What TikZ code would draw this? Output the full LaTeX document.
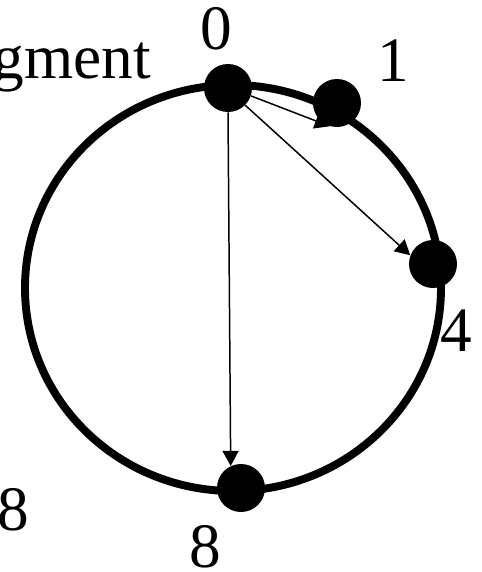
\documentclass[tikz,border=0pt]{standalone}
\usepackage{fontspec}
\setmainfont{Liberation Serif}
\usetikzlibrary{positioning,arrows.meta}

\begin{document}
\begin{tikzpicture}[x=0.2mm,y=-0.2mm,
  dot/.style={circle,fill=black,inner sep=0pt,minimum size=9.6mm},
  lbl/.style={inner sep=0pt,font=\fontsize{36}{40}\selectfont},
  hop/.style={line width=0.85pt,-{Triangle[length=3mm,width=3.2mm]}}]
\useasboundingbox (0,0) rectangle (481,572);
% the ring
\draw[line width=4.5pt] (233,288) ellipse [x radius=41.6mm, y radius=40.6mm];
\node[dot] (n0) at (228,88) {};
\node[dot] (n1) at (337,103) {};
\node[dot] (n4) at (433,264) {};
\node[dot] (n8) at (241,488) {};
% labels
\node[lbl] (l0) at (216,29) {0};
\node[lbl] (l1) at (393,61) {1};
\node[lbl] (l4) at (456,331) {4};
\node[lbl] (l8) at (205,547) {8};
\node[lbl] (lft) at (13,510) {8};
\node[lbl,anchor=base east] (seg) at (151,78) {gment};
% fingers
\draw[hop] (n0.-19) -- (n1.253);
\draw[hop] (n0.-45) -- (n4.159);
\draw[hop] (n0.south) -- (n8.115);
\end{tikzpicture}
\end{document}
